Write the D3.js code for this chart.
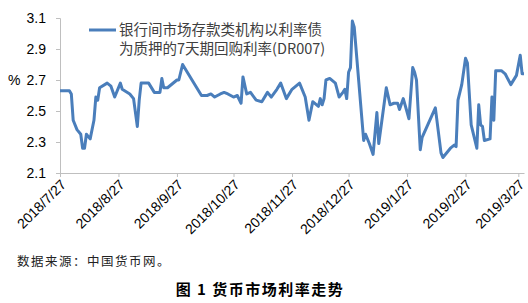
<!DOCTYPE html>
<html lang="zh">
<head>
<meta charset="UTF-8">
<script src="https://d3js.org/d3.v7.min.js"></script>
<style>
body { margin: 0; background: #fff; }
svg text { font-family: "Liberation Sans", Arial, sans-serif; }
.cjk { font-family: "Noto Sans CJK SC", sans-serif; }
</style>
</head>
<body>
<div id="chart"></div>
<script>
// DR007 daily readings
var dates = [
  "2018-07-27","2018-08-01","2018-08-02","2018-08-03","2018-08-05","2018-08-07","2018-08-08","2018-08-09",
  "2018-08-10","2018-08-12","2018-08-14","2018-08-15","2018-08-16","2018-08-17","2018-08-21","2018-08-23",
  "2018-08-25","2018-08-28","2018-08-29","2018-09-02","2018-09-04","2018-09-06","2018-09-07","2018-09-08",
  "2018-09-12","2018-09-15","2018-09-18","2018-09-19","2018-09-20","2018-09-22","2018-09-27","2018-09-28",
  "2018-09-30","2018-10-02","2018-10-10","2018-10-13","2018-10-15","2018-10-17","2018-10-20","2018-10-22",
  "2018-10-24","2018-10-27","2018-10-29","2018-10-31","2018-11-01","2018-11-03","2018-11-05","2018-11-08",
  "2018-11-11","2018-11-14","2018-11-16","2018-11-19","2018-11-21","2018-11-24","2018-11-27","2018-12-01",
  "2018-12-04","2018-12-06","2018-12-08","2018-12-11","2018-12-12","2018-12-13","2018-12-14","2018-12-15",
  "2018-12-17","2018-12-20","2018-12-22","2018-12-24","2018-12-25","2018-12-26","2018-12-27","2018-12-28",
  "2018-12-29","2018-12-30","2019-01-04","2019-01-05","2019-01-07","2019-01-09","2019-01-11","2019-01-12",
  "2019-01-16","2019-01-18","2019-01-20","2019-01-22","2019-01-23","2019-01-25","2019-01-28","2019-01-30",
  "2019-01-31","2019-02-01","2019-02-03","2019-02-04","2019-02-11","2019-02-14","2019-02-15","2019-02-19",
  "2019-02-21","2019-02-22","2019-02-23","2019-02-25","2019-02-27","2019-02-28","2019-03-02","2019-03-05",
  "2019-03-06","2019-03-07","2019-03-08","2019-03-09","2019-03-12","2019-03-13","2019-03-14","2019-03-15",
  "2019-03-18","2019-03-20","2019-03-23","2019-03-26","2019-03-28","2019-03-29","2019-03-30"
];
var rates = [
  2.63,2.63,2.61,2.44,2.38,2.35,2.26,2.26,
  2.35,2.32,2.44,2.59,2.57,2.65,2.68,2.66,
  2.59,2.68,2.64,2.61,2.58,2.40,2.57,2.68,
  2.68,2.62,2.62,2.71,2.65,2.65,2.70,2.70,
  2.80,2.76,2.60,2.60,2.61,2.59,2.61,2.62,
  2.61,2.59,2.60,2.55,2.72,2.61,2.62,2.57,
  2.56,2.62,2.59,2.64,2.68,2.58,2.64,2.68,
  2.59,2.44,2.56,2.53,2.58,2.54,2.58,2.70,
  2.71,2.68,2.59,2.62,2.64,2.58,2.75,2.78,
  3.08,3.04,2.31,2.35,2.29,2.22,2.49,2.29,
  2.65,2.54,2.55,2.55,2.51,2.58,2.45,2.78,
  2.75,2.70,2.25,2.33,2.52,2.23,2.20,2.26,
  2.28,2.27,2.57,2.67,2.84,2.81,2.41,2.26,
  2.54,2.41,2.40,2.31,2.32,2.59,2.44,2.76,
  2.76,2.74,2.67,2.73,2.86,2.74,2.74
];
var tickDates = ["2018-07-27","2018-08-27","2018-09-27","2018-10-27","2018-11-27",
                 "2018-12-27","2019-01-27","2019-02-27","2019-03-27"];
var yTicks = [2.1, 2.3, 2.5, 2.7, 2.9, 3.1];
var seriesName = ["银行间市场存款类机构以利率债", "为质押的7天期回购利率(DR007)"];

var parse = d3.timeParse("%Y-%m-%d");
var data = dates.map(function(d, i) { return {date: parse(d), value: rates[i]}; });

var W = 528, H = 303;
var svg = d3.select("#chart").append("svg").attr("width", W).attr("height", H);

var x = d3.scaleTime()
    .domain([parse("2018-07-27"), parse("2019-03-30")])
    .range([60, 524]);
var y = d3.scaleLinear().domain([2.1, 3.1]).range([173, 18]);

// y axis
var yAxis = svg.append("g").attr("transform", "translate(60,0)")
    .call(d3.axisLeft(y).tickValues(yTicks).tickFormat(d3.format(".1f")).tickSize(4).tickPadding(10));
yAxis.select(".domain").attr("stroke", "#bfbfbf");
yAxis.selectAll(".tick line").attr("stroke", "#bfbfbf");
yAxis.selectAll("text").attr("font-size", 14).attr("fill", "#000");

// x axis
var xAxis = svg.append("g").attr("transform", "translate(0,173)")
    .call(d3.axisBottom(x).tickValues(tickDates.map(parse))
      .tickFormat(d3.timeFormat("%Y/%-m/%-d")).tickSize(4).tickSizeOuter(0));
xAxis.select(".domain").attr("stroke", "#bfbfbf");
xAxis.selectAll(".tick line").attr("stroke", "#bfbfbf");
xAxis.selectAll("text")
    .attr("font-size", 14).attr("fill", "#000")
    .attr("text-anchor", "end")
    .attr("dy", "0.35em")
    .attr("transform", "translate(3,9) rotate(-45)")
    .attr("y", 0).attr("x", 0);

svg.append("text").attr("x", 8).attr("y", 80).attr("dy", "0.35em")
    .attr("font-size", 14).attr("fill", "#000").text("%");

// line
var line = d3.line().x(function(d) { return x(d.date); }).y(function(d) { return y(d.value); });
svg.append("path").datum(data)
    .attr("fill", "none").attr("stroke", "#4a7ebb").attr("stroke-width", 3)
    .attr("stroke-linejoin", "round").attr("d", line);

// legend
svg.append("line").attr("x1", 89).attr("x2", 116).attr("y1", 30).attr("y2", 30)
    .attr("stroke", "#4a7ebb").attr("stroke-width", 3);
svg.selectAll(".leg").data(seriesName).enter().append("text")
    .attr("class", "cjk")
    .attr("x", 119).attr("y", function(d, i) { return 30 + i * 19; })
    .attr("dy", "0.35em").attr("font-size", 14.5).attr("fill", "#404040")
    .text(function(d) { return d; });

// notes
svg.append("text").attr("class", "cjk").attr("x", 17).attr("y", 262).attr("dy", "0.35em")
    .attr("font-size", 12.5).attr("letter-spacing", 1.5).attr("fill", "#222").text("数据来源：中国货币网。");
svg.append("text").attr("class", "cjk").attr("x", 260).attr("y", 290).attr("dy", "0.35em")
    .attr("text-anchor", "middle").attr("font-size", 15).attr("font-weight", "bold")
    .attr("letter-spacing", 1.5).attr("fill", "#000").text("图 1 货币市场利率走势");
</script>
</body>
</html>
